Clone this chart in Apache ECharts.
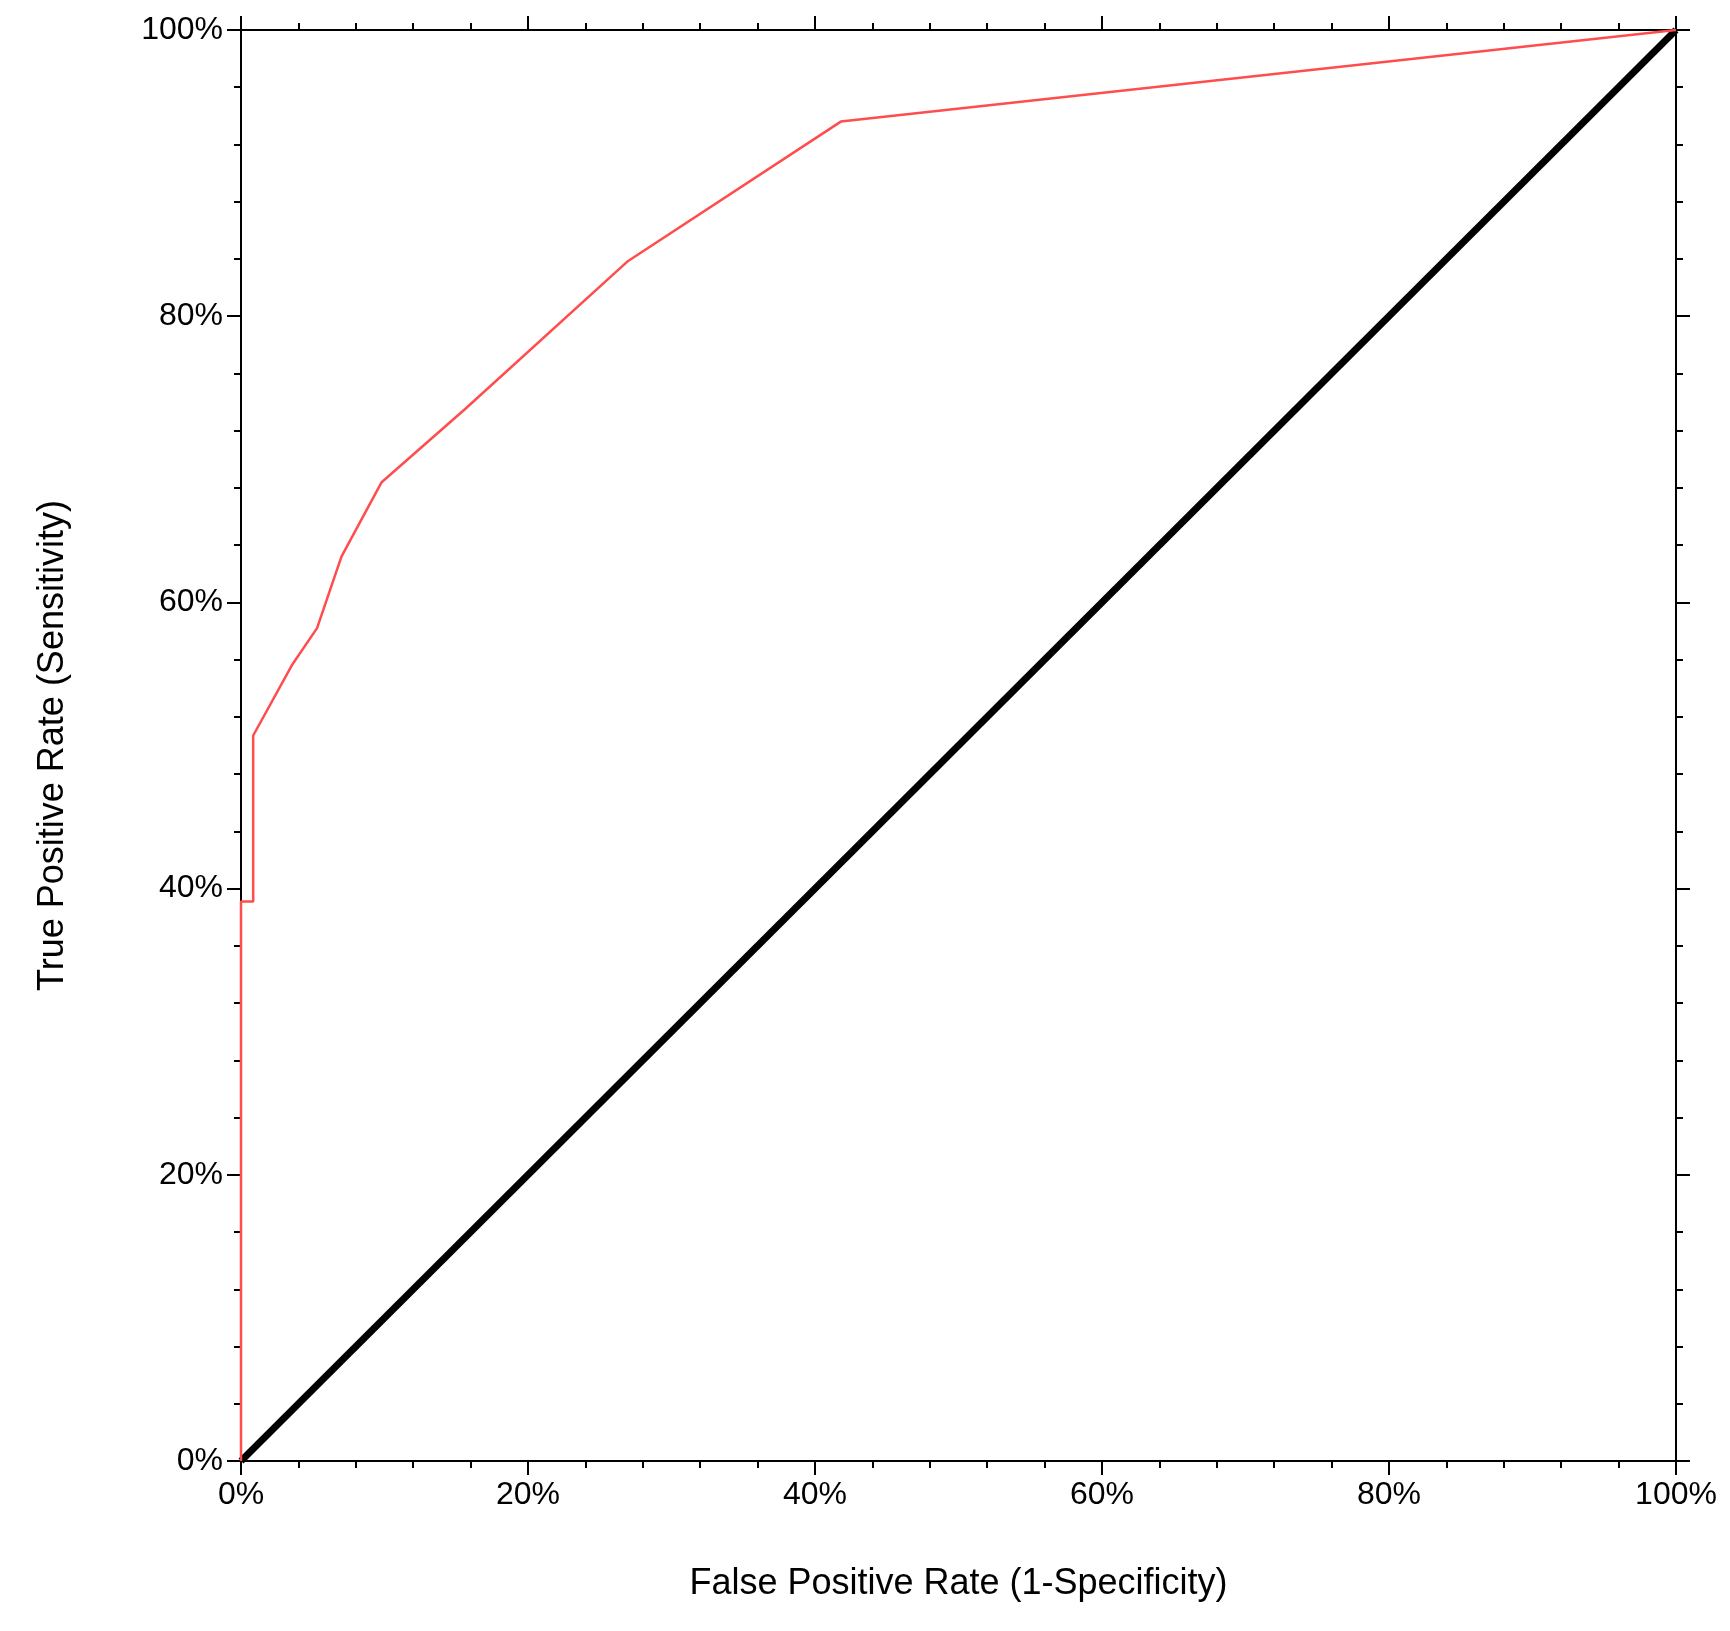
<!DOCTYPE html>
<html>
<head>
<meta charset="utf-8">
<script src="https://cdn.jsdelivr.net/npm/echarts@6/dist/echarts.min.js"></script>
<style>html,body{margin:0;padding:0;background:#fff}#chart{width:1730px;height:1631px}</style>
</head>
<body>
<div id="chart"></div>
<script>
// ROC curve points (FPR %, TPR %)
var rocFpr = [0, 0, 0.85, 0.85, 3.6, 5.3, 7.0, 9.8, 15.6, 26.9, 41.8, 100];
var rocTpr = [0, 39.1, 39.1, 50.7, 55.7, 58.2, 63.2, 68.4, 73.5, 83.8, 93.6, 100];
var refFpr = [0, 100];
var refTpr = [0, 100];

var font = 'Liberation Sans, Arial, sans-serif';
var rocData = rocFpr.map(function(x, i){ return [x, rocTpr[i]]; });
var refData = refFpr.map(function(x, i){ return [x, refTpr[i]]; });

function axis(pos, show){
	return {
		type: 'value', position: pos, min: 0, max: 100, interval: 20,
		axisLine: {show: true, onZero: false, lineStyle: {color: '#000', width: 2}},
		axisTick: {show: true, length: 14, lineStyle: {color: '#000', width: 2}},
		minorTick: {show: true, splitNumber: 5, length: 7, lineStyle: {color: '#000', width: 2}},
		splitLine: {show: false},
		axisLabel: {show: show, formatter: '{value}%', fontFamily: font, fontSize: 32, color: '#000', margin: 18}
	};
}

var chart = echarts.init(document.getElementById('chart'));
var xb = axis('bottom', true);
xb.name = 'False Positive Rate (1-Specificity)';
xb.nameLocation = 'middle';
xb.nameGap = 105;
xb.nameTextStyle = {fontFamily: font, fontSize: 36, color: '#000'};
var yl = axis('left', true);
yl.name = 'True Positive Rate (Sensitivity)';
yl.nameLocation = 'middle';
yl.nameGap = 170;
yl.nameTextStyle = {fontFamily: font, fontSize: 36, color: '#000'};

chart.setOption({
	animation: false,
	grid: {left: 241, right: 54, top: 30, bottom: 170},
	xAxis: [xb, axis('top', false)],
	yAxis: [yl, axis('right', false)],
	series: [
		{type: 'line', data: refData, showSymbol: false, lineStyle: {color: '#000', width: 7}},
		{type: 'line', data: rocData, showSymbol: false, lineStyle: {color: '#ff4d4d', width: 2.5}}
	]
});
</script>
</body>
</html>
